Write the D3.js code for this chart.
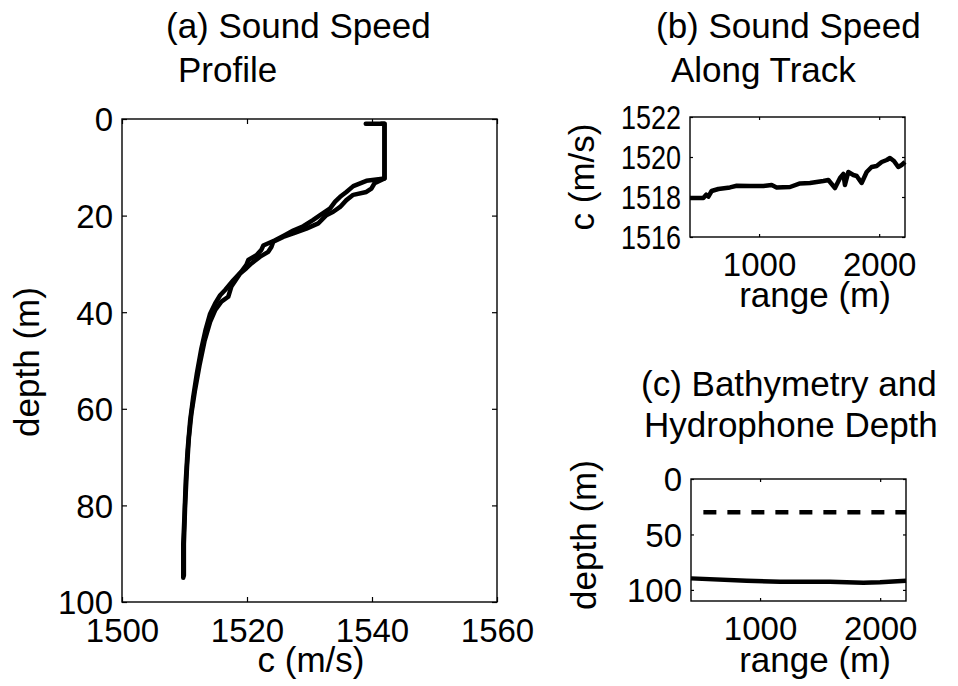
<!DOCTYPE html>
<html lang="en">
<head>
<meta charset="utf-8">
<title>Sound speed, bathymetry</title>
<script src="https://cdn.jsdelivr.net/npm/d3@7"></script>
<style>
  body { margin: 0; background: #fff; }
  svg text { font-family: "Liberation Sans", Arial, Helvetica, sans-serif; fill: #000; }
  .tick line { stroke: #000; stroke-width: 1.2; }
  .frame { fill: none; stroke: #000; stroke-width: 1.4; }
</style>
</head>
<body>
<script>
// (a) two sound speed profiles
var profileSpeed1 = [1539.0,1542.0,1542.0,1539.1,1537.0,1535.9,1534.9,1534.1,1533.3,1531.7,1530.6,1529.0,1527.4,1526.1,1524.5,1522.6,1522.3,1521.5,1520.2,1519.9,1519.1,1517.8,1516.5,1515.7,1514.9,1514.1,1513.4,1512.7,1512.0,1511.4,1510.9,1510.5,1510.2,1510.0,1509.8,1509.8];
var profileDepth1 = [1.0,1.0,12.3,12.8,13.9,15.1,16.1,17.1,18.5,19.9,20.9,22.2,23.1,24.0,25.1,26.2,27.1,28.2,29.2,30.2,31.6,33.4,35.4,36.5,38.2,40.3,43.5,47.5,52.5,57.5,62.5,68.5,75.0,82.0,88.0,95.0];
var profileSpeed2 = [1541.5,1542.0,1542.0,1540.4,1539.9,1539.1,1537.0,1535.9,1534.9,1533.8,1532.7,1531.4,1529.5,1527.4,1525.8,1524.2,1523.9,1523.4,1522.1,1520.7,1519.9,1518.9,1517.5,1517.0,1515.9,1514.9,1514.1,1513.2,1512.4,1511.7,1511.1,1510.7,1510.4,1510.1,1509.9,1509.9];
var profileDepth2 = [1.0,1.0,12.3,13.3,14.4,15.1,15.7,16.8,18.2,19.2,19.9,21.6,22.7,23.7,24.4,25.4,26.5,27.5,28.5,29.9,30.9,32.0,34.7,36.8,37.8,39.6,42.0,46.0,51.0,56.0,61.0,66.0,72.0,80.0,88.0,94.5];

// (b) sound speed along track
var trackRange = [425,536,560,578,605,661,758,814,925,1036,1105,1146,1258,1341,1424,1535,1577,1632,1674,1702,1715,1743,1785,1813,1854,1896,1937,1979,2021,2063,2090,2123,2159,2187,2215];
var trackSpeed = [1517.95,1517.95,1518.12,1518.02,1518.30,1518.40,1518.48,1518.56,1518.55,1518.55,1518.60,1518.48,1518.50,1518.68,1518.70,1518.80,1518.85,1518.45,1518.95,1519.15,1518.60,1519.25,1519.10,1519.05,1518.70,1519.25,1519.50,1519.55,1519.75,1519.85,1519.95,1519.80,1519.50,1519.60,1519.75];

// (c) bathymetry and hydrophone depth
var bathyRange = [425,888,1166,1582,1860,1999,2215];
var bathyDepth = [89.6,91.7,92.6,92.6,93.5,93.2,91.7];
var phoneRange = [528,2215];
var phoneDepth = [30,30];

// tick values
var speedTicksA = [1500,1520,1540,1560];
var depthTicksA = [0,20,40,60,80,100];
var speedTicksB = [1516,1518,1520,1522];
var rangeTicks = [1000,2000];
var depthTicksC = [0,50,100];

var W = 958, H = 686;
var svg = d3.select("body").append("svg").attr("width", W).attr("height", H);

var tickFont = 33, labelFont = 35;

function panel(box, xDom, yDom, xTicks, yTicks, tickLen) {
  var x = d3.scaleLinear().domain(xDom).range([box.x0, box.x1]);
  var y = d3.scaleLinear().domain(yDom).range([box.y0, box.y1]);
  var g = svg.append("g");

  var bottom = g.append("g").attr("transform", "translate(0," + box.y1 + ")")
    .call(d3.axisBottom(x).tickValues(xTicks).tickSize(-tickLen).tickPadding(0).tickFormat(d3.format("d")));
  var left = g.append("g").attr("transform", "translate(" + box.x0 + ",0)")
    .call(d3.axisLeft(y).tickValues(yTicks).tickSize(-tickLen).tickPadding(9).tickFormat(d3.format("d")));
  g.append("g").attr("transform", "translate(0," + box.y0 + ")")
    .call(d3.axisTop(x).tickValues(xTicks).tickSize(-tickLen).tickFormat(""));
  g.append("g").attr("transform", "translate(" + box.x1 + ",0)")
    .call(d3.axisRight(y).tickValues(yTicks).tickSize(-tickLen).tickFormat(""));
  g.selectAll(".domain").remove();
  g.selectAll(".tick text").attr("font-size", tickFont).attr("font-family", null);

  bottom.selectAll(".tick text").attr("y", box.xLabY - box.y1).attr("dy", 0);
  left.selectAll(".tick text").attr("dy", "0.36em");

  g.append("rect").attr("class", "frame")
    .attr("x", box.x0).attr("y", box.y0)
    .attr("width", box.x1 - box.x0).attr("height", box.y1 - box.y0);
  return { g: g, x: x, y: y, left: left };
}

function title(lines) {
  lines.forEach(function(l) {
    svg.append("text").attr("x", l[1]).attr("y", l[2]).attr("font-size", labelFont).text(l[0]);
  });
}
function xLabel(t, cx, by) {
  svg.append("text").attr("x", cx).attr("y", by).attr("text-anchor", "middle")
    .attr("font-size", labelFont).text(t);
}
function yLabel(t, bx, cy) {
  svg.append("text").attr("transform", "translate(" + bx + "," + cy + ") rotate(-90)")
    .attr("text-anchor", "middle").attr("font-size", labelFont).text(t);
}

// ---- (a)
var pa = panel({x0: 122, x1: 497, y0: 119, y1: 602, xLabY: 642}, [1500, 1560], [0, 100],
  speedTicksA, depthTicksA, 5);
var lineA = d3.line().x(function(d) { return pa.x(d[0]); }).y(function(d) { return pa.y(d[1]); });
[[profileSpeed1, profileDepth1], [profileSpeed2, profileDepth2]].forEach(function(p) {
  pa.g.append("path")
    .datum(d3.zip(p[0], p[1]))
    .attr("d", lineA).attr("fill", "none").attr("stroke", "#000")
    .attr("stroke-width", 4.5).attr("stroke-linejoin", "round").attr("stroke-linecap", "round");
});
title([["(a) Sound Speed", 166, 38], ["Profile", 178, 82]]);
xLabel("c (m/s)", 311, 672);
yLabel("depth (m)", 39, 362);

// ---- (b)
var pb = panel({x0: 690, x1: 905, y0: 117, y1: 237, xLabY: 276}, [425, 2215], [1522, 1516],
  rangeTicks, speedTicksB, 3);
pb.left.selectAll(".tick text").attr("textLength", 60).attr("lengthAdjust", "spacingAndGlyphs");
var lineB = d3.line().x(function(d) { return pb.x(d[0]); }).y(function(d) { return pb.y(d[1]); });
pb.g.append("path").datum(d3.zip(trackRange, trackSpeed))
  .attr("d", lineB).attr("fill", "none").attr("stroke", "#000")
  .attr("stroke-width", 4.5).attr("stroke-linejoin", "round");
title([["(b) Sound Speed", 656, 38], ["Along Track", 671, 82]]);
xLabel("range (m)", 815, 307);
yLabel("c (m/s)", 594, 177);

// ---- (c)
var pc = panel({x0: 691, x1: 906, y0: 479, y1: 601, xLabY: 640}, [425, 2215], [0, 110],
  rangeTicks, depthTicksC, 3);
var lineC = d3.line().x(function(d) { return pc.x(d[0]); }).y(function(d) { return pc.y(d[1]); });
pc.g.append("path").datum(d3.zip(bathyRange, bathyDepth))
  .attr("d", lineC).attr("fill", "none").attr("stroke", "#000").attr("stroke-width", 4.5);
pc.g.append("path").datum(d3.zip(phoneRange, phoneDepth))
  .attr("d", lineC).attr("fill", "none").attr("stroke", "#000").attr("stroke-width", 4.5)
  .attr("stroke-dasharray", "13,11");
title([["(c) Bathymetry and", 641, 396], ["Hydrophone Depth", 644, 437]]);
xLabel("range (m)", 815, 672);
yLabel("depth (m)", 596, 535);
</script>
</body>
</html>
